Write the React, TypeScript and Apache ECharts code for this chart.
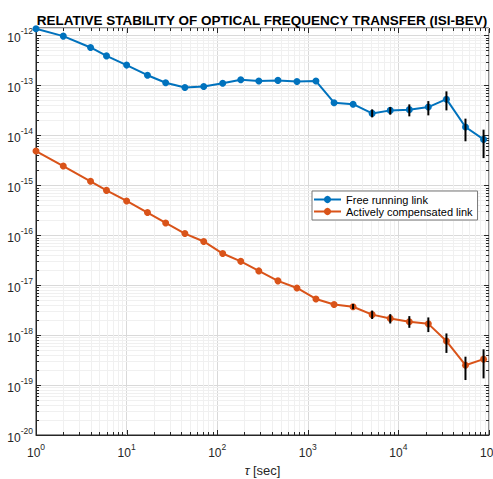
import React, { useEffect, useRef } from "react";
import * as echarts from "echarts";

const tau = [1, 2, 4, 6, 10, 17, 27, 44, 71, 115, 182, 288, 468, 759, 1230, 1950, 3160, 5130, 8130, 13200, 21400, 33900, 55000, 87100];
const freeRunning = [1.36e-12, 9.7e-13, 5.75e-13, 3.9e-13, 2.55e-13, 1.6e-13, 1.13e-13, 9.1e-14, 9.5e-14, 1.1e-13, 1.3e-13, 1.22e-13, 1.26e-13, 1.2e-13, 1.22e-13, 4.5e-14, 4.2e-14, 2.75e-14, 3.16e-14, 3.27e-14, 3.68e-14, 5.3e-14, 1.47e-14, 8.3e-15];
const compensated = [4.85e-15, 2.43e-15, 1.2e-15, 7.9e-16, 4.85e-16, 2.84e-16, 1.76e-16, 1.08e-16, 7.5e-17, 4.3e-17, 3.0e-17, 1.93e-17, 1.22e-17, 8.8e-18, 5.3e-18, 4.1e-18, 3.7e-18, 2.57e-18, 2.16e-18, 1.85e-18, 1.68e-18, 7.6e-19, 2.5e-19, 3.3e-19];

// error bars: [tau, low, high]
const freeErrTau = [5130, 8130, 13200, 21400, 33900, 55000, 87100];
const freeErrLow = [2.29e-14, 2.59e-14, 2.4e-14, 2.51e-14, 3.16e-14, 7.6e-15, 3.5e-15];
const freeErrHigh = [3.31e-14, 3.68e-14, 4.17e-14, 4.85e-14, 7.6e-14, 2.16e-14, 1.3e-14];
const compErrTau = [3160, 5130, 8130, 13200, 21400, 33900, 55000, 87100];
const compErrLow = [3.3e-18, 2.1e-18, 1.71e-18, 1.4e-18, 1.15e-18, 4.4e-19, 1.26e-19, 1.36e-19];
const compErrHigh = [4.2e-18, 3.1e-18, 2.63e-18, 2.4e-18, 2.26e-18, 1.08e-18, 3.7e-19, 5.2e-19];

const xMin = 1;
const xMax = 1e5;
const yMin = 1e-20;
const yMax = 1.41e-12;

const FONT = "Liberation Sans";
const AXIS_COLOR = "#262626";

function isPow10(v: number) {
  const l = Math.log10(v);
  return Math.abs(l - Math.round(l)) < 1e-6;
}

const supRich = {
  b: { fontSize: 12, fontFamily: FONT, color: AXIS_COLOR, lineHeight: 17, verticalAlign: "bottom" },
  s: { fontSize: 8.5, fontFamily: FONT, color: AXIS_COLOR, lineHeight: 17, verticalAlign: "top" },
};

export default function App() {
  const ref = useRef<HTMLDivElement>(null);
  useEffect(() => {
    if (!ref.current) return;
    const chart = echarts.init(ref.current, null, { renderer: "svg" });

    const xTicks: number[][] = [];
    for (let e = 0; e <= 5; e++) {
      xTicks.push([Math.pow(10, e), 1]);
      if (e < 5) for (let k = 2; k <= 9; k++) xTicks.push([k * Math.pow(10, e), 0]);
    }
    const yTicks: number[][] = [];
    for (let e = -20; e <= -12; e++) {
      yTicks.push([Math.pow(10, e), 1]);
      for (let k = 2; k <= 9; k++) {
        const v = k * Math.pow(10, e);
        if (v < yMax) yTicks.push([v, 0]);
      }
    }

    const errData = (t: number[], lo: number[], hi: number[]) => t.map((x, i) => [x, lo[i], hi[i]]);

    const errRender = (params: any, api: any) => {
      const p1 = api.coord([api.value(0), api.value(1)]);
      const p2 = api.coord([api.value(0), api.value(2)]);
      return {
        type: "line",
        shape: { x1: p1[0], y1: p1[1], x2: p2[0], y2: p2[1] },
        style: { stroke: "#000", lineWidth: 2 },
      };
    };

    const option: any = {
      animation: false,
      backgroundColor: "#fff",
      title: {
        text: "RELATIVE STABILITY OF OPTICAL FREQUENCY TRANSFER (ISI-BEV)",
        left: 262,
        textAlign: "center",
        top: 13,
        padding: 0,
        textStyle: { fontFamily: FONT, fontSize: 13.5, fontWeight: "bold", color: "#000" },
      },
      grid: { left: 36, right: 4, top: 28, bottom: 44, show: true, borderColor: AXIS_COLOR, borderWidth: 1, backgroundColor: "#fff", containLabel: false, outerBoundsMode: "none" },
      legend: {
        data: ["Free running link", "Actively compensated link"],
        orient: "vertical",
        left: 312,
        top: 191,
        itemWidth: 27,
        itemHeight: 9,
        itemGap: 1,
        padding: [3, 5, 3, 1],
        borderColor: "#777",
        borderWidth: 1,
        borderRadius: 0,
        backgroundColor: "#fff",
        textStyle: { fontFamily: FONT, fontSize: 11, color: "#000" },
      },
      xAxis: {
        type: "log",
        logBase: 10,
        min: xMin,
        max: xMax,
        splitNumber: 10,
        name: "{t|τ} {n|[sec]}",
        nameLocation: "middle",
        nameGap: 26,
        nameTextStyle: {
          rich: {
            t: { fontFamily: FONT, fontSize: 13, fontStyle: "italic", color: AXIS_COLOR },
            n: { fontFamily: FONT, fontSize: 13, color: AXIS_COLOR },
          },
        },
        axisLine: { show: true, lineStyle: { color: AXIS_COLOR, width: 1 } },
        axisTick: { show: false },
        axisLabel: {
          margin: 7,
          formatter: (v: number) => (isPow10(v) ? `{b|10}{s|${Math.round(Math.log10(v))}}` : ""),
          rich: supRich,
        },
        splitLine: { show: true, lineStyle: { color: "#d9d9d9", width: 1 } },
      },
      yAxis: {
        type: "log",
        logBase: 10,
        min: yMin,
        max: yMax,
        splitNumber: 10,
        axisLine: { show: true, lineStyle: { color: AXIS_COLOR, width: 1 } },
        axisTick: { show: false },
        axisLabel: {
          margin: 3,
          formatter: (v: number) => (isPow10(v) ? `{b|10}{s|${Math.round(Math.log10(v))}}` : ""),
          rich: supRich,
        },
        splitLine: { show: true, lineStyle: { color: "#d9d9d9", width: 1 } },
      },
      series: [
        {
          name: "xgrid",
          type: "custom",
          silent: true,
          z: 1,
          data: xTicks,
          encode: { x: 0 },
          renderItem: (params: any, api: any) => {
            const cs = params.coordSys;
            const major = api.value(1) === 1;
            const x = Math.round(api.coord([api.value(0), 1e-15])[0]) + 0.5;
            const top = cs.y;
            const bot = cs.y + cs.height;
            const len = major ? 5 : 3;
            const children: any[] = [];
            if (!major)
              children.push({ type: "line", shape: { x1: x, y1: top, x2: x, y2: bot }, style: { stroke: "#f0f0f0", lineWidth: 1 } });
            children.push({ type: "line", shape: { x1: x, y1: bot, x2: x, y2: bot - len }, style: { stroke: AXIS_COLOR, lineWidth: 1 } });
            children.push({ type: "line", shape: { x1: x, y1: top, x2: x, y2: top + len }, style: { stroke: AXIS_COLOR, lineWidth: 1 } });
            return { type: "group", children };
          },
        },
        {
          name: "ygrid",
          type: "custom",
          silent: true,
          z: 1,
          data: yTicks,
          encode: { y: 0 },
          renderItem: (params: any, api: any) => {
            const cs = params.coordSys;
            const major = api.value(1) === 1;
            const y = Math.round(api.coord([10, api.value(0)])[1]) + 0.5;
            const left = cs.x;
            const right = cs.x + cs.width;
            const len = major ? 5 : 3;
            const children: any[] = [];
            if (!major)
              children.push({ type: "line", shape: { x1: left, y1: y, x2: right, y2: y }, style: { stroke: "#f0f0f0", lineWidth: 1 } });
            children.push({ type: "line", shape: { x1: left, y1: y, x2: left + len, y2: y }, style: { stroke: AXIS_COLOR, lineWidth: 1 } });
            children.push({ type: "line", shape: { x1: right, y1: y, x2: right - len, y2: y }, style: { stroke: AXIS_COLOR, lineWidth: 1 } });
            return { type: "group", children };
          },
        },
        {
          name: "Free running link",
          type: "line",
          z: 3,
          data: tau.map((t, i) => [t, freeRunning[i]]),
          symbol: "circle",
          symbolSize: 7,
          showSymbol: true,
          color: "#0072BD",
          lineStyle: { width: 2, color: "#0072BD" },
          itemStyle: { color: "#0072BD" },
        },
        {
          name: "Actively compensated link",
          type: "line",
          z: 3,
          data: tau.map((t, i) => [t, compensated[i]]),
          symbol: "circle",
          symbolSize: 7,
          showSymbol: true,
          color: "#D95319",
          lineStyle: { width: 2, color: "#D95319" },
          itemStyle: { color: "#D95319" },
        },
        {
          name: "freeErr",
          type: "custom",
          z: 4,
          silent: true,
          data: errData(freeErrTau, freeErrLow, freeErrHigh),
          encode: { x: 0, y: [1, 2] },
          renderItem: errRender,
        },
        {
          name: "compErr",
          type: "custom",
          z: 4,
          silent: true,
          data: errData(compErrTau, compErrLow, compErrHigh),
          encode: { x: 0, y: [1, 2] },
          renderItem: errRender,
        },
      ],
    };
    chart.setOption(option);
    return () => chart.dispose();
  }, []);
  return <div ref={ref} style={{ position: "fixed", left: 0, top: 0, width: 493, height: 479 }} />;
}
